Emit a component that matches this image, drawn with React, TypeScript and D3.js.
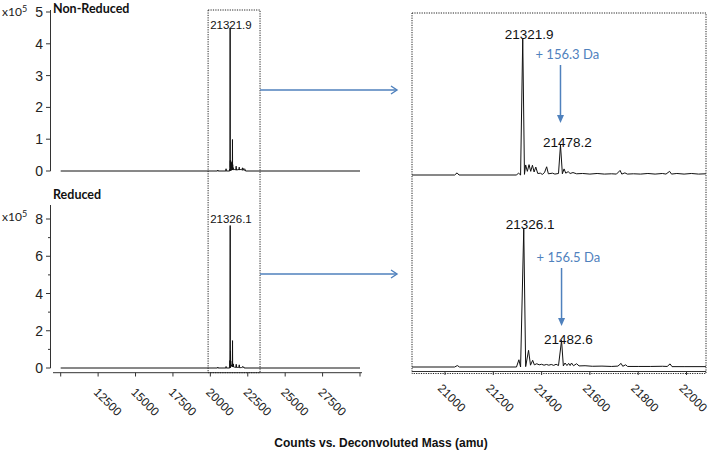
import React from "react";
import * as d3 from "d3";

// ---------- data ----------
const panelNames = ["Non-Reduced", "Reduced"];
const peakLabels = [
  { main: 21321.9, mainLabel: "21321.9", adduct: 21478.2, adductLabel: "21478.2", shift: "+ 156.3 Da" },
  { main: 21326.1, mainLabel: "21326.1", adduct: 21482.6, adductLabel: "21482.6", shift: "+ 156.5 Da" },
];
const leftYTicksTop = [0, 1, 2, 3, 4, 5];
const leftYTicksBottom = [0, 2, 4, 6, 8];
const leftYMinorBottom = [1, 3, 5, 7];
const leftXTicks = [10000, 12500, 15000, 17500, 20000, 22500, 25000, 27500, 30000];
const leftXLabeled = [12500, 15000, 17500, 20000, 22500, 25000, 27500];
const rightXTicks = [21000, 21200, 21400, 21600, 21800, 22000];
const zoomRange = [19850, 23320];
const xTitle = "Counts vs. Deconvoluted Mass (amu)";

// spectra: [mass (amu), counts x10^5]
const nonReducedSpectrum: [number, number][] = [
  [10000, 0], [20480, 0], [20500, 0.03], [20520, 0], [21040, 0], [21050, 0.07], [21058, 0],
  [21295, 0], [21305, 0.06], [21313, 0], [21321.9, 4.5], [21329, 0.02], [21334, 0.33],
  [21341, 0.12], [21348, 0.34], [21355, 0.12], [21362, 0.32], [21369, 0.1], [21376, 0.26],
  [21384, 0.05], [21395, 0.06], [21403, 0.02], [21412, 0.08], [21421, 0.27], [21428, 0.04],
  [21445, 0.06], [21455, 0.03], [21470, 0.05], [21478.2, 0.99], [21486, 0.04], [21493, 0.2],
  [21500, 0.06], [21510, 0.11], [21518, 0.05], [21530, 0.08], [21545, 0.04], [21570, 0.05],
  [21600, 0.03], [21630, 0.05], [21660, 0.03], [21690, 0.04], [21710, 0.03], [21725, 0.15],
  [21732, 0.03], [21745, 0.07], [21755, 0.03], [21780, 0.04], [21810, 0.03], [21840, 0.05],
  [21870, 0.03], [21900, 0.05], [21915, 0.03], [21930, 0.12], [21938, 0.03], [21960, 0.05],
  [21990, 0.03], [22020, 0.05], [22050, 0.03], [22080, 0.04], [22100, 0.03], [22150, 0.1],
  [22170, 0.02], [22240, 0.08], [22260, 0.02], [22330, 0.05], [22350, 0], [30000, 0],
];
const reducedSpectrum: [number, number][] = [
  [10000, 0], [20480, 0], [20500, 0.05], [20520, 0], [21040, 0], [21051, 0.08], [21060, 0],
  [21296, 0], [21306, 0.4], [21313, 0], [21326.1, 7.65], [21334, 0.02], [21346, 0.92],
  [21354, 0.1], [21363, 0.37], [21370, 0.12], [21380, 0.18], [21390, 0.12], [21400, 0.15],
  [21410, 0.1], [21420, 0.14], [21430, 0.1], [21440, 0.14], [21450, 0.09], [21460, 0.15],
  [21470, 0.08], [21482.6, 1.47], [21490, 0.06], [21497, 0.22], [21505, 0.08], [21512, 0.2],
  [21518, 0.08], [21524, 0.22], [21532, 0.07], [21545, 0.18], [21555, 0.06], [21580, 0.07],
  [21610, 0.04], [21650, 0.05], [21690, 0.03], [21716, 0.05], [21729, 0.2], [21736, 0.04],
  [21748, 0.12], [21756, 0.03], [21800, 0.03], [21850, 0.03], [21900, 0.04], [21920, 0.03],
  [21932, 0.17], [21940, 0.02], [21990, 0.02], [22080, 0.02], [22150, 0.08], [22170, 0.02],
  [22240, 0.06], [22260, 0], [30000, 0],
];

// ---------- layout ----------
const W = 709;
const H = 456;
const BLUE = "#4f81bd";
const FONT = "'Liberation Sans', Arial, sans-serif";
const CAL = "Lato, 'Open Sans', sans-serif";

export default function App() {
  const xL = d3.scaleLinear().domain([10000, 30000]).range([60.7, 360]);
  const xR = d3.scaleLinear().domain([21000, 22000]).range([445, 686.5]);

  const yLT = d3.scaleLinear().domain([0, 5]).range([171, 12]);
  const yLB = d3.scaleLinear().domain([0, 8]).range([368, 219]);
  const yRT = d3.scaleLinear().domain([0, 5]).range([175, 22.8]);
  const yRB = d3.scaleLinear().domain([0, 8]).range([367, 222]);

  const lineOf = (xs: any, ys: any) =>
    d3.line<[number, number]>().x((d) => xs(d[0])).y((d) => ys(d[1]));

  const spectra = [nonReducedSpectrum, reducedSpectrum];
  const leftY = [yLT, yLB];
  const rightY = [yRT, yRB];
  const arrowY = [90, 274];

  const rightBox = { x0: 412, x1: 706, y0: 13, y1: 372 };

  return (
    <svg width={W} height={H} style={{ position: "absolute", left: 0, top: 0, background: "#fff" }}>
      <defs>
        <clipPath id="rclip">
          <rect x={rightBox.x0} y={rightBox.y0} width={rightBox.x1 - rightBox.x0} height={rightBox.y1 - rightBox.y0} />
        </clipPath>
      </defs>

      {/* ---------- left panels ---------- */}
      <line x1={50.5} x2={50.5} y1={10} y2={yLT(0)} stroke="#333" />
      {leftYTicksTop.map((t) => (
        <g key={"lt" + t}>
          <line x1={46} x2={50.5} y1={yLT(t)} y2={yLT(t)} stroke="#333" />
          <text x={43} y={yLT(t)} dy="0.36em" textAnchor="end" fontFamily={FONT} fontSize={14} fill="#222">
            {t}
          </text>
        </g>
      ))}
      <line x1={50.5} x2={50.5} y1={205} y2={yLB(0)} stroke="#333" />
      {leftYTicksBottom.map((t) => (
        <g key={"lb" + t}>
          <line x1={46} x2={50.5} y1={yLB(t)} y2={yLB(t)} stroke="#333" />
          <text x={43} y={yLB(t)} dy="0.36em" textAnchor="end" fontFamily={FONT} fontSize={14} fill="#222">
            {t}
          </text>
        </g>
      ))}
      {leftYMinorBottom.map((t) => (
        <line key={"lm" + t} x1={48} x2={50.5} y1={yLB(t)} y2={yLB(t)} stroke="#333" />
      ))}

      {[16, 221].map((yy, i) => (
        <text key={"ex" + i} x={2} y={yy} fontFamily={CAL} fontSize={12} fill="#222">
          x10<tspan dy={-4} fontSize={9}>5</tspan>
        </text>
      ))}

      <text x={53} y={12.5} fontFamily={CAL} fontWeight="bold" fontSize={12.5} fill="#111">{panelNames[0]}</text>
      <text x={53} y={199} fontFamily={CAL} fontWeight="bold" fontSize={12.5} fill="#111">{panelNames[1]}</text>

      {spectra.map((s, i) => (
        <path key={"ls" + i} d={lineOf(xL, leftY[i])(s) || ""} fill="none" stroke="#111" strokeWidth={1} />
      ))}

      {peakLabels.map((p, i) => (
        <text key={"lpl" + i} x={xL(p.main) - 20} y={i === 0 ? 29 : 223} fontFamily={FONT} fontSize={11.5} fill="#111">
          {p.mainLabel}
        </text>
      ))}

      <line x1={53} x2={362} y1={372.7} y2={372.7} stroke="#333" />
      {leftXTicks.map((t) => (
        <line key={"lx" + t} x1={xL(t)} x2={xL(t)} y1={372.7} y2={376.5} stroke="#333" />
      ))}
      {leftXLabeled.map((t) => (
        <text
          key={"lxl" + t}
          transform={`translate(${xL(t) - 5},${393}) rotate(45)`}
          fontFamily={FONT}
          fontSize={12}
          fill="#222"
        >
          {t}
        </text>
      ))}

      <rect
        x={xL(zoomRange[0])}
        y={10}
        width={xL(zoomRange[1]) - xL(zoomRange[0])}
        height={362.7}
        fill="none"
        stroke="#222"
        strokeWidth={1}
        strokeDasharray="1.2,1.2"
      />

      {arrowY.map((yy, i) => (
        <g key={"ha" + i} stroke={BLUE} strokeWidth={1.4} fill="none">
          <line x1={xL(zoomRange[1])} x2={397} y1={yy} y2={yy} />
          <polyline points={`${391},${yy - 4} ${397},${yy} ${391},${yy + 4}`} />
        </g>
      ))}

      {/* ---------- right panel ---------- */}
      <rect
        x={rightBox.x0}
        y={rightBox.y0}
        width={rightBox.x1 - rightBox.x0}
        height={rightBox.y1 + 1.5 - rightBox.y0}
        fill="none"
        stroke="#222"
        strokeWidth={1}
        strokeDasharray="1.2,1.2"
      />
      <g clipPath="url(#rclip)">
        {spectra.map((s, i) => (
          <path key={"rs" + i} d={lineOf(xR, rightY[i])(s) || ""} fill="none" stroke="#111" strokeWidth={1} />
        ))}
      </g>
      <line x1={rightBox.x0} x2={rightBox.x1} y1={371.5} y2={371.5} stroke="#333" />
      {rightXTicks.map((t) => (
        <g key={"rx" + t}>
          <line x1={xR(t)} x2={xR(t)} y1={371.5} y2={375} stroke="#333" />
          <text transform={`translate(${xR(t) - 8},${389}) rotate(45)`} fontFamily={FONT} fontSize={12} fill="#222">
            {t}
          </text>
        </g>
      ))}

      {peakLabels.map((p, i) => {
        const mainY = i === 0 ? 39 : 229;
        const addY = i === 0 ? 147 : 344;
        const shiftY = i === 0 ? 59 : 262;
        const arrTop = i === 0 ? 65 : 268;
        const arrBot = i === 0 ? 123 : 326;
        const ax = xR(p.adduct);
        return (
          <g key={"rp" + i}>
            <text x={xR(p.main) - 18} y={mainY} fontFamily={FONT} fontSize={13.5} fill="#111">
              {p.mainLabel}
            </text>
            <text x={ax - 17.5} y={addY} fontFamily={FONT} fontSize={13.5} fill="#111">
              {p.adductLabel}
            </text>
            <text x={ax - 25} y={shiftY} fontFamily={CAL} fontSize={13} fill={BLUE}>
              {p.shift}
            </text>
            <line x1={ax} x2={ax} y1={arrTop} y2={arrBot - 6} stroke={BLUE} strokeWidth={1.5} />
            <polygon points={`${ax - 3.5},${arrBot - 8} ${ax + 3.5},${arrBot - 8} ${ax},${arrBot}`} fill={BLUE} />
          </g>
        );
      })}

      <text x={381} y={447} textAnchor="middle" fontFamily={FONT} fontWeight="bold" fontSize={12} fill="#111">
        {xTitle}
      </text>
    </svg>
  );
}
